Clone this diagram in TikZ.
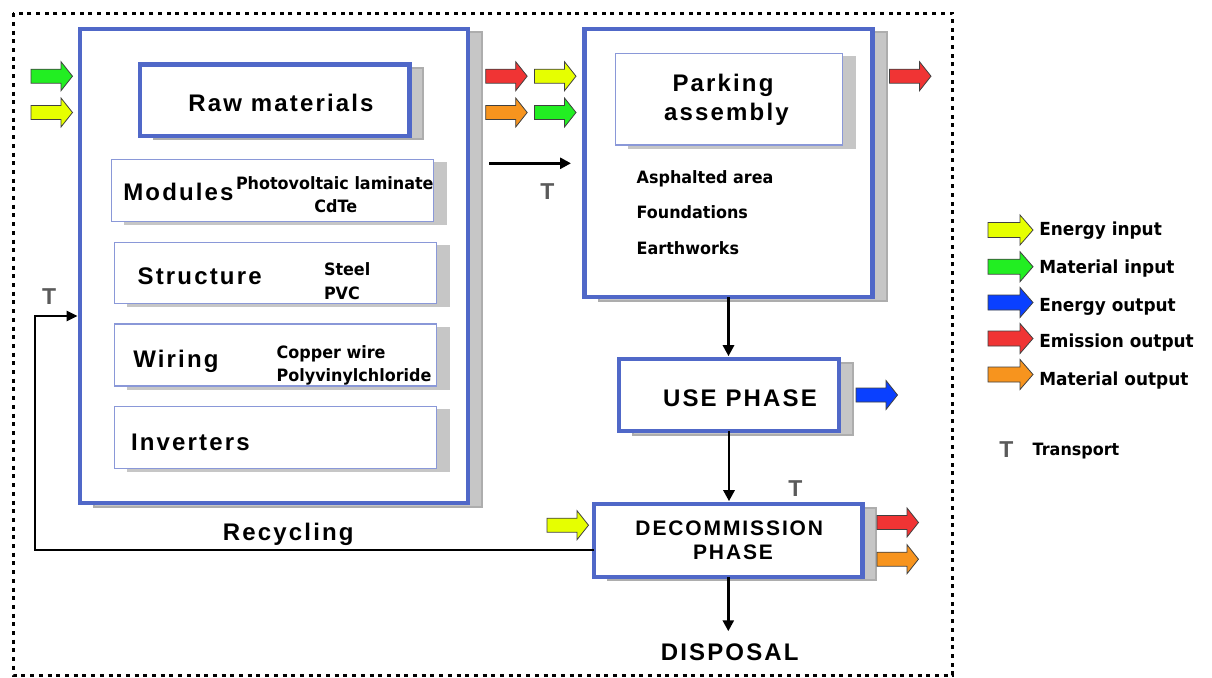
\documentclass[tikz,border=0pt]{standalone}
\usepackage{fontspec}
\usetikzlibrary{shadows,arrows.meta}

% Fonts: bold grotesque for headings, narrow humanist for item lists
\newfontfamily\hdfont[LetterSpace=9]{Liberation Sans}
\newfontfamily\tfont{Liberation Sans}
\newfontfamily\lbfont[FakeStretch=0.94]{DejaVu Sans}

\definecolor{frameblue}{HTML}{5068C8}
\definecolor{subblue}{HTML}{8A98D8}
\definecolor{shgray}{HTML}{C6C6C6}
\definecolor{shedge}{HTML}{ADADAD}
\definecolor{cgreen}{HTML}{22EE22}
\definecolor{cyellow}{HTML}{E6FF00}
\definecolor{cred}{HTML}{F03434}
\definecolor{corange}{HTML}{F7941E}
\definecolor{cblue}{HTML}{0A40FF}
\definecolor{tgray}{HTML}{5A5A5A}

\tikzset{
  mainbox/.style={draw=frameblue, line width=4.5pt, fill=white, inner sep=0pt, outer sep=0pt,
    general shadow={shadow xshift=14pt, shadow yshift=-3.5pt, fill=shgray, draw=shedge, line width=2pt}},
  subbox/.style={draw=subblue, line width=1.3pt, fill=white, inner sep=0pt, outer sep=0pt,
    general shadow={shadow xshift=12.5pt, shadow yshift=-3pt, fill=shgray, draw=shgray, line width=1pt}},
  txt/.style={inner sep=0pt, outer sep=0pt},
  head/.style={txt, font=\hdfont\bfseries\fontsize{24}{28}\selectfont},
  phase/.style={txt, font=\hdfont\bfseries\fontsize{21}{25}\selectfont},
  item/.style={txt, font=\lbfont\bfseries\fontsize{17}{20}\selectfont},
  legend/.style={txt, font=\lbfont\bfseries\fontsize{18}{21}\selectfont},
  tmark/.style={txt, text=tgray, font=\tfont\bfseries\fontsize{23}{26}\selectfont},
  conn/.style={line width=2.8pt, -{Triangle[length=11pt,width=11pt]}},
  loopline/.style={line width=2.5pt, -{Triangle[length=11pt,width=10pt]}},
  blk/.pic={\path[draw=black!75, line width=0.8pt, fill=#1]
    (0,-7)--(30,-7)--(30,-14.5)--(41.5,0)--(30,14.5)--(30,7)--(0,7)--cycle;},
  lgblk/.pic={\path[draw=black!75, line width=0.8pt, fill=#1]
    (0,-7.5)--(32,-7.5)--(32,-15)--(45,0)--(32,15)--(32,7.5)--(0,7.5)--cycle;}
}

\begin{document}
\begin{tikzpicture}[x=1pt, y=-1pt]
\useasboundingbox (0,0) rectangle (1212,677);
\fill[white] (0,0) rectangle (1212,677);

% dotted system boundary
\draw[line width=3pt, dash pattern=on 4pt off 4.7pt] (13.3,13.3) rectangle (952.7,675);

% manufacturing stage with its components
\node[mainbox, minimum width=388pt, minimum height=474pt] (recyc) at (274,266) {};
\node[mainbox, minimum width=269.5pt, minimum height=71.5pt] (raw) at (274.7,100.2) {};
\node[subbox, minimum width=322pt, minimum height=62pt] (modules) at (272.8,190.5) {};
\node[subbox, minimum width=322pt, minimum height=61pt] (structure) at (275.5,272.8) {};
\node[subbox, minimum width=322pt, minimum height=62pt] (wiring) at (275.5,355) {};
\node[subbox, minimum width=322pt, minimum height=62pt] (inverters) at (275.5,437.5) {};

\node[head, anchor=base] (rawt) at (281,111.7) {Raw materials};
\node[head, anchor=base west] (modt) at (123.3,200) {Modules};
\node[item, anchor=base west] (pvl) at (236,189.3) {Photovoltaic laminate};
\node[item, anchor=base] (cdte) at (335.8,212.7) {CdTe};
\node[head, anchor=base west] (strt) at (137.7,284) {Structure};
\node[item, anchor=base west] (steel) at (324,275.7) {Steel};
\node[item, anchor=base west] (pvc) at (324,299) {PVC};
\node[head, anchor=base west] (wirt) at (133.3,367.3) {Wiring};
\node[item, anchor=base west] (cu) at (276.7,358.3) {Copper wire};
\node[item, anchor=base west] (pvcl) at (276.7,381.7) {Polyvinylchloride};
\node[head, anchor=base west] (invt) at (131,450) {Inverters};
\node[head, anchor=base] (recyct) at (288.3,540.7) {Recycling};

% parking assembly stage
\node[mainbox, minimum width=288pt, minimum height=268pt] (park) at (728.5,163) {};
\node[subbox, minimum width=227pt, minimum height=91.7pt] (parkin) at (729.2,99.2) {};
\node[head, anchor=base] (parkt1) at (723,91.7) {Parking};
\node[head, anchor=base] (parkt2) at (726.5,120) {assembly};
\node[item, anchor=base west] (asph) at (636.7,183.3) {Asphalted area};
\node[item, anchor=base west] (found) at (636.7,218.3) {Foundations};
\node[item, anchor=base west] (earth) at (636.7,254) {Earthworks};

% use and end-of-life stages
\node[mainbox, minimum width=220.4pt, minimum height=72pt] (use) at (729,395.2) {};
\node[head, anchor=base] (uset) at (740,406) {USE PHASE};
\node[mainbox, minimum width=268.3pt, minimum height=72.6pt] (decomm) at (728.3,540.5) {};
\node[phase, anchor=base] (dect1) at (729.3,535) {DECOMMISSION};
\node[phase, anchor=base] (dect2) at (733,559) {PHASE};
\node[head, anchor=base] (disp) at (729.7,660) {DISPOSAL};

% transport marks
\node[tmark, anchor=base] (t1) at (547.5,199.3) {T};
\node[tmark, anchor=base] (t2) at (795.5,496.7) {T};
\node[tmark, anchor=base] (t3) at (49.2,304) {T};

% flow connectors
\coordinate (tA) at (489,163.3);
\coordinate (tB) at (571,163.3);
\draw[conn] (tA) -- (tB);
\draw[conn, shorten >=3pt] (park.south) -- (park.south |- use.north);
\draw[conn, shorten >=3pt] (use.south) -- (use.south |- decomm.north);
\draw[conn, shorten >=12pt] (decomm.south) -- (decomm.south |- disp.north);
\coordinate (rc1) at (35,550);
\coordinate (rc2) at (35,316);
\draw[loopline, shorten >=2.5pt] (decomm.west |- rc1) -- (rc1) -- (rc2) -- (recyc.west |- rc2);

% input and output flows
\pic at (31,76.2) {blk=cgreen};
\pic at (31,112.5) {blk=cyellow};
\pic at (485.7,76.2) {blk=cred};
\pic at (534.5,76.2) {blk=cyellow};
\pic at (485.7,112.5) {blk=corange};
\pic at (534.5,112.5) {blk=cgreen};
\pic at (889.5,76.2) {blk=cred};
\pic at (856,395) {blk=cblue};
\pic at (547,525.2) {blk=cyellow};
\pic at (877,522.5) {blk=cred};
\pic at (877,559.2) {blk=corange};

% legend
\pic at (988,230) {lgblk=cyellow};
\pic at (988,266.7) {lgblk=cgreen};
\pic at (988,302.5) {lgblk=cblue};
\pic at (988,338.5) {lgblk=cred};
\pic at (988,374.5) {lgblk=corange};
\node[legend, anchor=base west] (lg1) at (1039.3,235.7) {Energy input};
\node[legend, anchor=base west] (lg2) at (1039.3,273.3) {Material input};
\node[legend, anchor=base west] (lg3) at (1039.3,311) {Energy output};
\node[legend, anchor=base west] (lg4) at (1039.3,347.7) {Emission output};
\node[legend, anchor=base west] (lg5) at (1039.3,385) {Material output};
\node[tmark, anchor=base] (lgt) at (1006.3,457.7) {T};
\node[item, anchor=base west] (lgtt) at (1032.7,455) {Transport};
\end{tikzpicture}
\end{document}
